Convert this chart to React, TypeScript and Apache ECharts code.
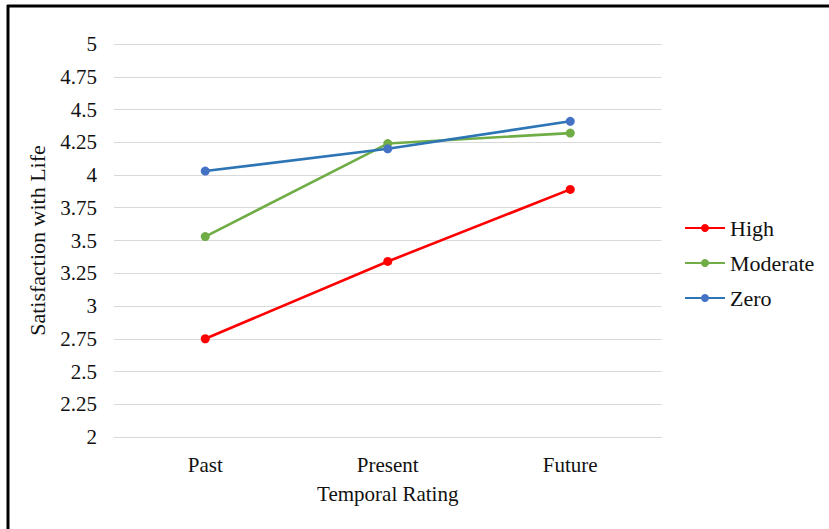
import React, { useEffect, useRef } from "react";
import * as echarts from "echarts";

const categories = ["Past", "Present", "Future"];
const highValues = [2.75, 3.34, 3.89];
const moderateValues = [3.53, 4.24, 4.32];
const zeroValues = [4.03, 4.2, 4.41];
const seriesNames = ["High", "Moderate", "Zero"];

const FONT = "Liberation Serif";

export default function App() {
  const ref = useRef<HTMLDivElement>(null);
  useEffect(() => {
    if (!ref.current) return;
    const chart = echarts.init(ref.current, undefined, { renderer: "svg" });
    const mk = (name: string, data: number[], line: string, item: string) => ({
      name,
      type: "line",
      data,
      symbol: "circle",
      symbolSize: 9,
      lineStyle: { color: line, width: 2.6 },
      itemStyle: { color: item },
      color: line,
    });
    chart.setOption({
      animation: false,
      backgroundColor: "#fff",
      textStyle: { fontFamily: FONT },
      grid: { left: 114, right: 167.5, top: 44, bottom: 92 },
      legend: {
        orient: "vertical",
        left: 684,
        top: 217,
        padding: 0,
        itemWidth: 40,
        itemHeight: 10,
        itemGap: 13,
        data: seriesNames,
        textStyle: { fontFamily: FONT, fontSize: 22, color: "#111", lineHeight: 22 },
      },
      xAxis: {
        type: "category",
        data: categories,
        boundaryGap: true,
        axisLine: { lineStyle: { color: "#d9d9d9", width: 1 } },
        axisTick: { show: false },
        axisLabel: { fontFamily: FONT, fontSize: 21, color: "#111", margin: 17 },
        name: "Temporal Rating",
        nameLocation: "middle",
        nameGap: 46,
        nameTextStyle: { fontFamily: FONT, fontSize: 21, color: "#111" },
      },
      yAxis: {
        type: "value",
        min: 2,
        max: 5,
        interval: 0.25,
        axisLine: { show: false },
        axisTick: { show: false },
        splitLine: { lineStyle: { color: "#d9d9d9", width: 1 } },
        axisLabel: { fontFamily: FONT, fontSize: 21, color: "#111", margin: 17 },
        name: "Satisfaction with Life",
        nameLocation: "middle",
        nameGap: 66,
        nameTextStyle: { fontFamily: FONT, fontSize: 22, color: "#111" },
      },
      series: [
        mk(seriesNames[0], highValues, "#ff0000", "#ff0000"),
        mk(seriesNames[1], moderateValues, "#70ad47", "#70ad47"),
        mk(seriesNames[2], zeroValues, "#2e75b6", "#4472c4"),
      ],
      graphic: [
        { type: "line", shape: { x1: 7, y1: 6, x2: 829, y2: 6 }, style: { stroke: "#000", lineWidth: 3 } },
        { type: "line", shape: { x1: 8, y1: 5, x2: 8, y2: 529 }, style: { stroke: "#000", lineWidth: 3 } },
      ],
    });
    return () => chart.dispose();
  }, []);
  return (
    <div
      ref={ref}
      style={{ position: "absolute", left: 0, top: 0, width: 829, height: 529 }}
    />
  );
}
